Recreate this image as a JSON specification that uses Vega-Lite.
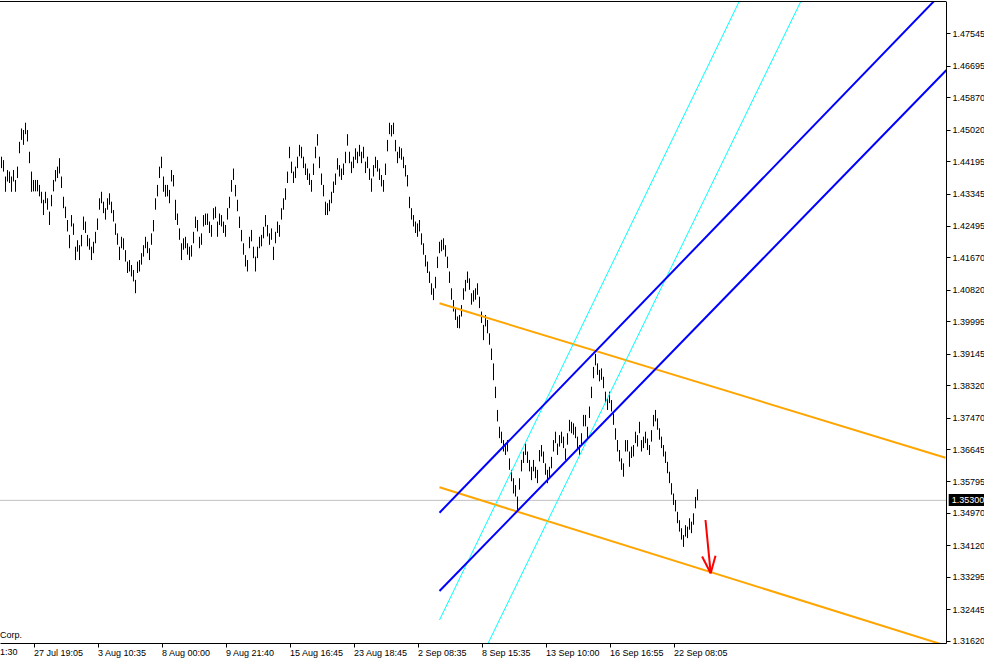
{
"$schema":"https://vega.github.io/schema/vega-lite/v6.json",
"width":946,"height":642,
"autosize":{"type":"none"},
"padding":{"left":0,"top":1,"right":38,"bottom":17},
"background":"#ffffff",
"config":{"view":{"stroke":null},"axis":{"grid":false,"labelFont":"Liberation Sans","labelFontSize":9,"labelColor":"#000000","tickColor":"#000000","domainColor":"#000000","domainWidth":1,"tickWidth":1}},
"datasets":{
"one":[{"v":1}],
"bars":[
{"i":0,"p":1.4431,"l":1.4401},{"i":1,"p":1.4422,"l":1.4392},{"i":2,"p":1.4379,"l":1.4339},{"i":3,"p":1.4396,"l":1.4366},{"i":4,"p":1.4392,"l":1.4362},{"i":5,"p":1.4379,"l":1.4339},{"i":6,"p":1.4396,"l":1.4366},{"i":7,"p":1.437,"l":1.4339},{"i":8,"p":1.4405,"l":1.4375},{"i":9,"p":1.447,"l":1.444},
{"i":10,"p":1.4505,"l":1.4475},{"i":11,"p":1.4501,"l":1.4462},{"i":12,"p":1.452,"l":1.449},{"i":13,"p":1.4501,"l":1.4471},{"i":14,"p":1.4444,"l":1.4414},{"i":15,"p":1.4392,"l":1.4339},{"i":16,"p":1.437,"l":1.434},{"i":17,"p":1.437,"l":1.434},{"i":18,"p":1.437,"l":1.434},{"i":19,"p":1.4357,"l":1.4327},
{"i":20,"p":1.4339,"l":1.4309},{"i":21,"p":1.4318,"l":1.4278},{"i":22,"p":1.4339,"l":1.4309},{"i":23,"p":1.4322,"l":1.4292},{"i":24,"p":1.4287,"l":1.4252},{"i":25,"p":1.4331,"l":1.4301},{"i":26,"p":1.437,"l":1.434},{"i":27,"p":1.4396,"l":1.4366},{"i":28,"p":1.4405,"l":1.4375},{"i":29,"p":1.4427,"l":1.4387},
{"i":30,"p":1.4379,"l":1.4349},{"i":31,"p":1.4326,"l":1.4296},{"i":32,"p":1.43,"l":1.427},{"i":33,"p":1.4265,"l":1.4235},{"i":34,"p":1.4226,"l":1.4191},{"i":35,"p":1.4278,"l":1.4248},{"i":36,"p":1.4256,"l":1.4226},{"i":37,"p":1.4195,"l":1.416},{"i":38,"p":1.4212,"l":1.4182},{"i":39,"p":1.4199,"l":1.416},
{"i":40,"p":1.4226,"l":1.4196},{"i":41,"p":1.4274,"l":1.4239},{"i":42,"p":1.4261,"l":1.4231},{"i":43,"p":1.4226,"l":1.4196},{"i":44,"p":1.4217,"l":1.4187},{"i":45,"p":1.4195,"l":1.416},{"i":46,"p":1.4208,"l":1.4178},{"i":47,"p":1.4234,"l":1.4204},{"i":48,"p":1.4269,"l":1.4239},{"i":49,"p":1.4322,"l":1.4292},
{"i":50,"p":1.4339,"l":1.4309},{"i":51,"p":1.4313,"l":1.4283},{"i":52,"p":1.4296,"l":1.4266},{"i":53,"p":1.4322,"l":1.4292},{"i":54,"p":1.4335,"l":1.4305},{"i":55,"p":1.4313,"l":1.4283},{"i":56,"p":1.4291,"l":1.4261},{"i":57,"p":1.4256,"l":1.4226},{"i":58,"p":1.423,"l":1.42},{"i":59,"p":1.4195,"l":1.416},
{"i":60,"p":1.4221,"l":1.4191},{"i":61,"p":1.4217,"l":1.4187},{"i":62,"p":1.4186,"l":1.4156},{"i":63,"p":1.4156,"l":1.4126},{"i":64,"p":1.416,"l":1.413},{"i":65,"p":1.4147,"l":1.4117},{"i":66,"p":1.4134,"l":1.4104},{"i":67,"p":1.4108,"l":1.4073},{"i":68,"p":1.4156,"l":1.4126},{"i":69,"p":1.416,"l":1.413},
{"i":70,"p":1.4178,"l":1.4148},{"i":71,"p":1.4199,"l":1.4169},{"i":72,"p":1.4221,"l":1.4191},{"i":73,"p":1.4208,"l":1.4178},{"i":74,"p":1.4191,"l":1.416},{"i":75,"p":1.423,"l":1.42},{"i":76,"p":1.4265,"l":1.4235},{"i":77,"p":1.4322,"l":1.4292},{"i":78,"p":1.4357,"l":1.4327},{"i":79,"p":1.4405,"l":1.4375},
{"i":80,"p":1.4431,"l":1.4401},{"i":81,"p":1.4379,"l":1.4339},{"i":82,"p":1.4357,"l":1.4326},{"i":83,"p":1.4357,"l":1.4327},{"i":84,"p":1.4344,"l":1.4309},{"i":85,"p":1.4396,"l":1.4366},{"i":86,"p":1.4383,"l":1.4353},{"i":87,"p":1.4318,"l":1.4265},{"i":88,"p":1.4282,"l":1.4252},{"i":89,"p":1.4243,"l":1.4213},
{"i":90,"p":1.4204,"l":1.416},{"i":91,"p":1.4217,"l":1.4187},{"i":92,"p":1.4221,"l":1.4191},{"i":93,"p":1.4204,"l":1.4174},{"i":94,"p":1.4195,"l":1.416},{"i":95,"p":1.4199,"l":1.4169},{"i":96,"p":1.4234,"l":1.4204},{"i":97,"p":1.4274,"l":1.4244},{"i":98,"p":1.4265,"l":1.4235},{"i":99,"p":1.4221,"l":1.4191},
{"i":100,"p":1.423,"l":1.42},{"i":101,"p":1.4278,"l":1.4248},{"i":102,"p":1.4282,"l":1.4252},{"i":103,"p":1.4282,"l":1.4252},{"i":104,"p":1.4261,"l":1.4231},{"i":105,"p":1.4252,"l":1.4221},{"i":106,"p":1.4296,"l":1.4266},{"i":107,"p":1.43,"l":1.427},{"i":108,"p":1.4261,"l":1.4221},{"i":109,"p":1.4282,"l":1.4252},
{"i":110,"p":1.4278,"l":1.4248},{"i":111,"p":1.4261,"l":1.4231},{"i":112,"p":1.4252,"l":1.4221},{"i":113,"p":1.4296,"l":1.4266},{"i":114,"p":1.4326,"l":1.4296},{"i":115,"p":1.437,"l":1.4339},{"i":116,"p":1.44,"l":1.437},{"i":117,"p":1.4357,"l":1.4327},{"i":118,"p":1.4318,"l":1.4288},{"i":119,"p":1.4274,"l":1.4244},
{"i":120,"p":1.4239,"l":1.4209},{"i":121,"p":1.4204,"l":1.4174},{"i":122,"p":1.4173,"l":1.4143},{"i":123,"p":1.416,"l":1.413},{"i":124,"p":1.4221,"l":1.4191},{"i":125,"p":1.4239,"l":1.4209},{"i":126,"p":1.4195,"l":1.4165},{"i":127,"p":1.4169,"l":1.413},{"i":128,"p":1.4195,"l":1.4165},{"i":129,"p":1.4221,"l":1.4191},
{"i":130,"p":1.4226,"l":1.4196},{"i":131,"p":1.4247,"l":1.4217},{"i":132,"p":1.4278,"l":1.4248},{"i":133,"p":1.4252,"l":1.4222},{"i":134,"p":1.423,"l":1.42},{"i":135,"p":1.4243,"l":1.4213},{"i":136,"p":1.4195,"l":1.416},{"i":137,"p":1.4234,"l":1.4204},{"i":138,"p":1.4261,"l":1.4231},{"i":139,"p":1.4252,"l":1.4221},
{"i":140,"p":1.4296,"l":1.4266},{"i":141,"p":1.4322,"l":1.4292},{"i":142,"p":1.4348,"l":1.4318},{"i":143,"p":1.4392,"l":1.4362},{"i":144,"p":1.4457,"l":1.4427},{"i":145,"p":1.4418,"l":1.4388},{"i":146,"p":1.4392,"l":1.4362},{"i":147,"p":1.4405,"l":1.4375},{"i":148,"p":1.4431,"l":1.4401},{"i":149,"p":1.4462,"l":1.4432},
{"i":150,"p":1.4457,"l":1.4427},{"i":151,"p":1.4431,"l":1.4401},{"i":152,"p":1.4413,"l":1.4383},{"i":153,"p":1.44,"l":1.437},{"i":154,"p":1.4387,"l":1.4357},{"i":155,"p":1.437,"l":1.4339},{"i":156,"p":1.4413,"l":1.4383},{"i":157,"p":1.4457,"l":1.4427},{"i":158,"p":1.449,"l":1.446},{"i":159,"p":1.4431,"l":1.4401},
{"i":160,"p":1.4387,"l":1.4357},{"i":161,"p":1.4357,"l":1.4327},{"i":162,"p":1.4313,"l":1.4278},{"i":163,"p":1.4309,"l":1.4278},{"i":164,"p":1.4318,"l":1.4288},{"i":165,"p":1.4339,"l":1.4309},{"i":166,"p":1.4366,"l":1.4336},{"i":167,"p":1.4387,"l":1.4357},{"i":168,"p":1.4427,"l":1.4397},{"i":169,"p":1.4409,"l":1.4379},
{"i":170,"p":1.44,"l":1.437},{"i":171,"p":1.4413,"l":1.4383},{"i":172,"p":1.4444,"l":1.4414},{"i":173,"p":1.449,"l":1.446},{"i":174,"p":1.4444,"l":1.4414},{"i":175,"p":1.4418,"l":1.4388},{"i":176,"p":1.4431,"l":1.4401},{"i":177,"p":1.4453,"l":1.4423},{"i":178,"p":1.4444,"l":1.4414},{"i":179,"p":1.4462,"l":1.4432},
{"i":180,"p":1.4444,"l":1.4414},{"i":181,"p":1.4457,"l":1.4427},{"i":182,"p":1.4418,"l":1.4388},{"i":183,"p":1.4431,"l":1.4401},{"i":184,"p":1.44,"l":1.437},{"i":185,"p":1.4374,"l":1.4339},{"i":186,"p":1.4409,"l":1.4379},{"i":187,"p":1.4431,"l":1.4401},{"i":188,"p":1.4422,"l":1.4392},{"i":189,"p":1.44,"l":1.437},
{"i":190,"p":1.4383,"l":1.4353},{"i":191,"p":1.437,"l":1.4339},{"i":192,"p":1.4413,"l":1.4383},{"i":193,"p":1.4475,"l":1.4445},{"i":194,"p":1.452,"l":1.449},{"i":195,"p":1.4514,"l":1.4484},{"i":196,"p":1.452,"l":1.449},{"i":197,"p":1.4475,"l":1.4445},{"i":198,"p":1.4444,"l":1.4414},{"i":199,"p":1.4457,"l":1.4427},
{"i":200,"p":1.4453,"l":1.4423},{"i":201,"p":1.4431,"l":1.4401},{"i":202,"p":1.4409,"l":1.4379},{"i":203,"p":1.4383,"l":1.4353},{"i":204,"p":1.4326,"l":1.4296},{"i":205,"p":1.4296,"l":1.4266},{"i":206,"p":1.4278,"l":1.4248},{"i":207,"p":1.4261,"l":1.4231},{"i":208,"p":1.4256,"l":1.4221},{"i":209,"p":1.4265,"l":1.4235},
{"i":210,"p":1.423,"l":1.42},{"i":211,"p":1.4204,"l":1.4174},{"i":212,"p":1.4173,"l":1.4143},{"i":213,"p":1.4156,"l":1.4126},{"i":214,"p":1.413,"l":1.41},{"i":215,"p":1.4099,"l":1.4069},{"i":216,"p":1.4086,"l":1.4055},{"i":217,"p":1.4116,"l":1.4086},{"i":218,"p":1.4169,"l":1.4139},{"i":219,"p":1.4208,"l":1.4178},
{"i":220,"p":1.4213,"l":1.4183},{"i":221,"p":1.4217,"l":1.4187},{"i":222,"p":1.4199,"l":1.4169},{"i":223,"p":1.4169,"l":1.4139},{"i":224,"p":1.413,"l":1.41},{"i":225,"p":1.4086,"l":1.4056},{"i":226,"p":1.4055,"l":1.4025},{"i":227,"p":1.4033,"l":1.4003},{"i":228,"p":1.4012,"l":1.3982},{"i":229,"p":1.4016,"l":1.3981},
{"i":230,"p":1.4042,"l":1.4012},{"i":231,"p":1.4086,"l":1.4056},{"i":232,"p":1.4108,"l":1.4078},{"i":233,"p":1.413,"l":1.41},{"i":234,"p":1.4112,"l":1.4082},{"i":235,"p":1.4073,"l":1.4043},{"i":236,"p":1.4081,"l":1.4051},{"i":237,"p":1.4086,"l":1.4056},{"i":238,"p":1.4099,"l":1.4069},{"i":239,"p":1.4064,"l":1.4034},
{"i":240,"p":1.4025,"l":1.3995},{"i":241,"p":1.399,"l":1.395},{"i":242,"p":1.4016,"l":1.3986},{"i":243,"p":1.4003,"l":1.3968},{"i":244,"p":1.3968,"l":1.3938},{"i":245,"p":1.3928,"l":1.3898},{"i":246,"p":1.3889,"l":1.3845},{"i":247,"p":1.3828,"l":1.3798},{"i":248,"p":1.3767,"l":1.3737},{"i":249,"p":1.3723,"l":1.3693},
{"i":250,"p":1.371,"l":1.368},{"i":251,"p":1.3688,"l":1.3658},{"i":252,"p":1.3679,"l":1.3649},{"i":253,"p":1.3688,"l":1.3658},{"i":254,"p":1.364,"l":1.361},{"i":255,"p":1.361,"l":1.358},{"i":256,"p":1.3588,"l":1.3548},{"i":257,"p":1.357,"l":1.354},{"i":258,"p":1.354,"l":1.3505},{"i":259,"p":1.3588,"l":1.3558},
{"i":260,"p":1.3636,"l":1.3606},{"i":261,"p":1.3658,"l":1.3628},{"i":262,"p":1.3679,"l":1.3649},{"i":263,"p":1.3658,"l":1.3628},{"i":264,"p":1.3636,"l":1.3606},{"i":265,"p":1.3618,"l":1.3583},{"i":266,"p":1.3636,"l":1.3606},{"i":267,"p":1.3618,"l":1.3588},{"i":268,"p":1.361,"l":1.3575},{"i":269,"p":1.3662,"l":1.3632},
{"i":270,"p":1.3675,"l":1.3645},{"i":271,"p":1.3658,"l":1.3628},{"i":272,"p":1.3627,"l":1.3597},{"i":273,"p":1.361,"l":1.3575},{"i":274,"p":1.3618,"l":1.3588},{"i":275,"p":1.3644,"l":1.3614},{"i":276,"p":1.3688,"l":1.3658},{"i":277,"p":1.371,"l":1.368},{"i":278,"p":1.3679,"l":1.3649},{"i":279,"p":1.3701,"l":1.3671},
{"i":280,"p":1.371,"l":1.368},{"i":281,"p":1.3697,"l":1.3667},{"i":282,"p":1.3666,"l":1.3636},{"i":283,"p":1.3706,"l":1.3676},{"i":284,"p":1.3741,"l":1.3711},{"i":285,"p":1.3736,"l":1.3706},{"i":286,"p":1.3732,"l":1.3702},{"i":287,"p":1.3723,"l":1.3693},{"i":288,"p":1.3697,"l":1.3667},{"i":289,"p":1.3675,"l":1.3649},
{"i":290,"p":1.3706,"l":1.3676},{"i":291,"p":1.3754,"l":1.3724},{"i":292,"p":1.3754,"l":1.3724},{"i":293,"p":1.3723,"l":1.3693},{"i":294,"p":1.3776,"l":1.3746},{"i":295,"p":1.3828,"l":1.3798},{"i":296,"p":1.388,"l":1.385},{"i":297,"p":1.3914,"l":1.3884},{"i":298,"p":1.3889,"l":1.3859},{"i":299,"p":1.3872,"l":1.3842},
{"i":300,"p":1.3876,"l":1.3846},{"i":301,"p":1.3854,"l":1.3824},{"i":302,"p":1.3815,"l":1.3785},{"i":303,"p":1.3797,"l":1.3767},{"i":304,"p":1.3815,"l":1.3785},{"i":305,"p":1.3793,"l":1.3763},{"i":306,"p":1.3758,"l":1.3728},{"i":307,"p":1.3719,"l":1.3689},{"i":308,"p":1.3688,"l":1.3658},{"i":309,"p":1.3662,"l":1.3632},
{"i":310,"p":1.364,"l":1.361},{"i":311,"p":1.3627,"l":1.3592},{"i":312,"p":1.3688,"l":1.3658},{"i":313,"p":1.3688,"l":1.3658},{"i":314,"p":1.3658,"l":1.3618},{"i":315,"p":1.3671,"l":1.3641},{"i":316,"p":1.3675,"l":1.3645},{"i":317,"p":1.371,"l":1.368},{"i":318,"p":1.3701,"l":1.3671},{"i":319,"p":1.3736,"l":1.3706},
{"i":320,"p":1.3688,"l":1.3658},{"i":321,"p":1.3697,"l":1.3667},{"i":322,"p":1.371,"l":1.368},{"i":323,"p":1.3692,"l":1.3662},{"i":324,"p":1.3675,"l":1.3649},{"i":325,"p":1.3714,"l":1.3684},{"i":326,"p":1.3754,"l":1.3724},{"i":327,"p":1.3767,"l":1.3737},{"i":328,"p":1.3745,"l":1.3715},{"i":329,"p":1.3719,"l":1.3689},
{"i":330,"p":1.3697,"l":1.3667},{"i":331,"p":1.3675,"l":1.3645},{"i":332,"p":1.3658,"l":1.3628},{"i":333,"p":1.3631,"l":1.3601},{"i":334,"p":1.3605,"l":1.3575},{"i":335,"p":1.3575,"l":1.3545},{"i":336,"p":1.3548,"l":1.3518},{"i":337,"p":1.3531,"l":1.3501},{"i":338,"p":1.35,"l":1.347},{"i":339,"p":1.3478,"l":1.3448},
{"i":340,"p":1.3457,"l":1.3427},{"i":341,"p":1.3439,"l":1.3408},{"i":342,"p":1.3465,"l":1.3435},{"i":343,"p":1.3461,"l":1.3431},{"i":344,"p":1.3483,"l":1.3453},{"i":345,"p":1.3474,"l":1.3444},{"i":346,"p":1.3496,"l":1.3466},{"i":347,"p":1.3539,"l":1.3509},{"i":348,"p":1.3559,"l":1.353}
],
"lines":[
{"g":"o1","k":"orange","i":219,"p":1.40466},{"g":"o1","k":"orange","i":472,"p":1.36418},
{"g":"o2","k":"orange","i":219,"p":1.35642},{"g":"o2","k":"orange","i":472,"p":1.31494},
{"g":"b1","k":"blue","i":219,"p":1.34976},{"g":"b1","k":"blue","i":466.8,"p":1.48418},
{"g":"b2","k":"blue","i":219,"p":1.32923},{"g":"b2","k":"blue","i":472.5,"p":1.46583},
{"g":"c1","k":"cyan","i":219,"p":1.32163},{"g":"c1","k":"cyan","i":369.2,"p":1.48418},
{"g":"c2","k":"cyan","i":241.5,"p":1.31361},{"g":"c2","k":"cyan","i":400,"p":1.48418}
],
"arrow":[
{"g":"s","i":352,"p":1.34785},{"g":"s","i":354.6,"p":1.33387},
{"g":"l","i":350.3,"p":1.33828},{"g":"l","i":354.6,"p":1.33387},
{"g":"r","i":357,"p":1.3385},{"g":"r","i":354.6,"p":1.33387}
]
},
"layer":[
{"data":{"name":"one"},"mark":{"type":"rule","color":"#c0c0c0","strokeWidth":1},
 "encoding":{"y":{"datum":1.353,"type":"quantitative","scale":{"domain":[1.3156,1.48392],"nice":false,"zero":false},"axis":{"title":null}}}},
{"data":{"name":"bars"},
 "mark":{"type":"rule","color":"#000000","strokeWidth":1},
 "encoding":{
  "x":{"field":"i","type":"quantitative","scale":{"domain":[-0.75,472.25],"nice":false,"zero":false},
   "axis":{"orient":"bottom","title":null,"values":[16,48,80,112,144,176,208,240,272,304,336],"tickCount":40,
    "labelExpr":"['27 Jul 19:05','3 Aug 10:35','8 Aug 00:00','9 Aug 21:40','15 Aug 16:45','23 Aug 18:45','2 Sep 08:35','8 Sep 15:35','13 Sep 10:00','16 Sep 16:55','22 Sep 08:05'][round((datum.value-16)/32)]",
    "labelAlign":"left","labelBaseline":"top","tickSize":4,"labelPadding":1,"labelOverlap":false,"labelFlush":false,"labelBound":false,"labelDx":-1}},
  "y":{"field":"p","type":"quantitative","scale":{"domain":[1.3156,1.48392],"nice":false,"zero":false},
   "axis":{"orient":"right","title":null,"values":[1.47545,1.46695,1.4587,1.4502,1.44195,1.43345,1.42495,1.4167,1.4082,1.39995,1.39145,1.3832,1.3747,1.36645,1.35795,1.3497,1.3412,1.33295,1.32445,1.3162],"tickCount":40,
    "format":".5f","tickSize":4,"labelPadding":2,"labelOverlap":false,"labelFlush":false,"labelBaseline":"middle"}},
  "y2":{"field":"l"}}},
{"data":{"name":"lines"},"transform":[{"filter":"datum.k == 'orange'"}],
 "mark":{"type":"line","color":"#FFA500","strokeWidth":2,"clip":true},
 "encoding":{"x":{"field":"i","type":"quantitative","scale":{"domain":[-0.75,472.25],"nice":false,"zero":false},"axis":{"title":null}},
  "y":{"field":"p","type":"quantitative","scale":{"domain":[1.3156,1.48392],"nice":false,"zero":false},"axis":{"title":null}},
  "detail":{"field":"g"}}},
{"data":{"name":"lines"},"transform":[{"filter":"datum.k == 'cyan'"}],
 "mark":{"type":"line","color":"#00FFFF","strokeWidth":1,"clip":true},
 "encoding":{"x":{"field":"i","type":"quantitative","scale":{"domain":[-0.75,472.25],"nice":false,"zero":false},"axis":{"title":null}},
  "y":{"field":"p","type":"quantitative","scale":{"domain":[1.3156,1.48392],"nice":false,"zero":false},"axis":{"title":null}},
  "detail":{"field":"g"}}},
{"data":{"name":"lines"},"transform":[{"filter":"datum.k == 'blue'"}],
 "mark":{"type":"line","color":"#0000FF","strokeWidth":2,"clip":true},
 "encoding":{"x":{"field":"i","type":"quantitative","scale":{"domain":[-0.75,472.25],"nice":false,"zero":false},"axis":{"title":null}},
  "y":{"field":"p","type":"quantitative","scale":{"domain":[1.3156,1.48392],"nice":false,"zero":false},"axis":{"title":null}},
  "detail":{"field":"g"}}},
{"data":{"name":"arrow"},
 "mark":{"type":"line","color":"#FF0000","strokeWidth":2},
 "encoding":{"x":{"field":"i","type":"quantitative","scale":{"domain":[-0.75,472.25],"nice":false,"zero":false},"axis":{"title":null}},
  "y":{"field":"p","type":"quantitative","scale":{"domain":[1.3156,1.48392],"nice":false,"zero":false},"axis":{"title":null}},
  "detail":{"field":"g"}}},
{"data":{"name":"one"},"mark":{"type":"rule","color":"#000000","strokeWidth":1},
 "encoding":{"y":{"datum":1.48379,"type":"quantitative","scale":{"domain":[1.3156,1.48392],"nice":false,"zero":false},"axis":{"title":null}}}},
{"data":{"name":"one"},"mark":{"type":"rect","color":"#000000"},
 "encoding":{"x":{"datum":473.6,"type":"quantitative","scale":{"domain":[-0.75,472.25],"nice":false,"zero":false},"axis":{"title":null}},
  "x2":{"datum":495},
  "y":{"datum":1.35466,"type":"quantitative","scale":{"domain":[1.3156,1.48392],"nice":false,"zero":false},"axis":{"title":null}},
  "y2":{"datum":1.35151}}},
{"data":{"name":"one"},"mark":{"type":"text","color":"#ffffff","align":"left","baseline":"middle","font":"Liberation Sans","fontSize":9},
 "encoding":{"x":{"datum":475.1,"type":"quantitative","scale":{"domain":[-0.75,472.25],"nice":false,"zero":false},"axis":{"title":null}},
  "y":{"datum":1.353,"type":"quantitative","scale":{"domain":[1.3156,1.48392],"nice":false,"zero":false},"axis":{"title":null}},
  "text":{"value":"1.35300"}}},
{"data":{"name":"one"},"mark":{"type":"text","color":"#000000","align":"left","baseline":"middle","font":"Liberation Sans","fontSize":9},
 "encoding":{"x":{"datum":-0.75,"type":"quantitative","scale":{"domain":[-0.75,472.25],"nice":false,"zero":false},"axis":{"title":null}},
  "y":{"datum":1.3177,"type":"quantitative","scale":{"domain":[1.3156,1.48392],"nice":false,"zero":false},"axis":{"title":null}},
  "text":{"value":"Corp."}}},
{"data":{"name":"one"},"mark":{"type":"text","color":"#000000","align":"left","baseline":"top","font":"Liberation Sans","fontSize":9},
 "encoding":{"x":{"datum":-0.75,"type":"quantitative","scale":{"domain":[-0.75,472.25],"nice":false,"zero":false},"axis":{"title":null}},
  "y":{"datum":1.31428,"type":"quantitative","scale":{"domain":[1.3156,1.48392],"nice":false,"zero":false},"axis":{"title":null}},
  "text":{"value":"1:30"}}}
]
}
